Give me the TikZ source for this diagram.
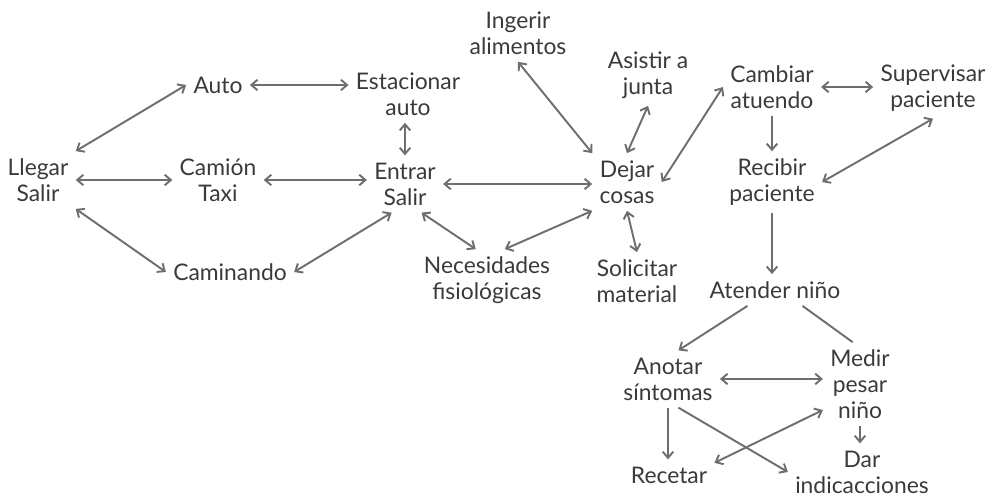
\documentclass[tikz,border=0pt]{standalone}
\usepackage{fontspec}
\setmainfont{Lato}
\usetikzlibrary{arrows.meta,calc}
\definecolor{txtgray}{HTML}{3A3A3A}
\definecolor{arrgray}{HTML}{6E6E6E}
\tikzset{
  activity/.style={align=center,inner sep=4pt,text=txtgray,font=\fontsize{13}{14.8}\selectfont},
  both/.style={draw=arrgray,line width=1.1pt,{Straight Barb[length=3.5pt,width=6pt]}-{Straight Barb[length=3.5pt,width=6pt]}},
  one/.style={draw=arrgray,line width=1.1pt,-{Straight Barb[length=3.5pt,width=6pt]}},
  plain/.style={draw=arrgray,line width=1.1pt}
}
\begin{document}
\begin{tikzpicture}[x=0.02cm,y=-0.02cm]
\useasboundingbox (0,0) rectangle (992,500);
\node[activity] (llegar) at (38,180) {Llegar\\Salir};
\node[activity] (auto) at (218,85) {Auto};
\node[activity] (estacionar) at (408,94) {Estacionar\\auto};
\node[activity] (camion) at (218,180) {Camión\\Taxi};
\node[activity] (entrar) at (405,184) {Entrar\\Salir};
\node[activity] (caminando) at (230,272) {Caminando};
\node[activity] (necesidades) at (487,280) {Necesidades\\fisiológicas};
\node[activity] (ingerir) at (518,33) {Ingerir\\alimentos};
\node[activity] (asistir) at (648,75) {Asistir a\\junta};
\node[activity] (dejar) at (627,182) {Dejar\\cosas};
\node[activity] (solicitar) at (637,281) {Solicitar\\material};
\node[activity] (cambiar) at (772,87) {Cambiar\\atuendo};
\node[activity] (supervisar) at (933,88) {Supervisar\\paciente};
\node[activity] (recibir) at (772,182) {Recibir\\paciente};
\node[activity] (atender) at (775,290) {Atender niño};
\node[activity] (anotar) at (668,379) {Anotar\\síntomas};
\node[activity] (medir) at (860,384) {Medir\\pesar\\niño};
\node[activity] (recetar) at (669,475) {Recetar};
\node[activity] (dar) at (862,472) {Dar\\indicacciones};
\draw[both] (llegar.north east) -- (auto.west);
\draw[both] (llegar.east) -- (camion.west);
\draw[both] (llegar.south east) -- (caminando.west);
\draw[both] (auto.east) -- (auto.east -| estacionar.west);
\draw[both] (camion.east) -- (camion.east -| entrar.west);
\draw[both] (entrar.north |- estacionar.south) -- (entrar.north);
\draw[both] (caminando.east) -- (entrar.-115);
\draw[both] (entrar.east) -- (entrar.east -| dejar.west);
\draw[both] (entrar.-60) -- (necesidades.110);
\draw[both] (necesidades.60) -- (dejar.south west);
\draw[both] (ingerir.south) -- (dejar.north west);
\draw[both] (asistir.south) -- (dejar.north);
\draw[both] (dejar.south) -- (solicitar.north);
\draw[both] (dejar.east) -- (cambiar.west);
\draw[both] (cambiar.east) -- (cambiar.east -| supervisar.west);
\draw[one] (cambiar.south) -- (recibir.north);
\draw[both] (supervisar.south) -- (recibir.east);
\draw[one] (recibir.south) -- (recibir.south |- atender.north);
\draw[one] (atender.-150) -- (anotar.70);
\draw[plain] (atender.-30) -- (medir.100);
\draw[both] (anotar.east) -- (anotar.east -| medir.west);
\draw[one] (anotar.south) -- (anotar.south |- recetar.north);
\draw[one] (anotar.-70) -- (dar.west);
\draw[both] (medir.-145) -- (recetar.15);
\draw[one] (medir.south) -- (medir.south |- dar.north);
\end{tikzpicture}
\end{document}
